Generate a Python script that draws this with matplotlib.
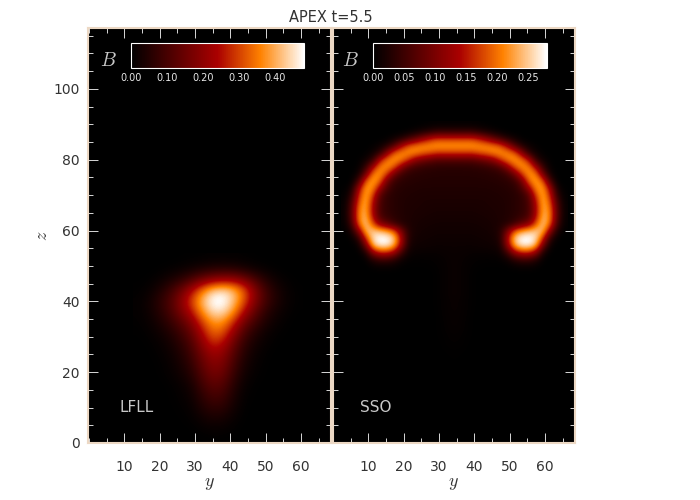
"""APEX t=5.5: magnetic field strength B in the y-z plane for two runs."""
import matplotlib
matplotlib.use("Agg")
import matplotlib.pyplot as plt
import numpy as np
from matplotlib.colors import LinearSegmentedColormap
from matplotlib.ticker import MultipleLocator

plt.rcParams["mathtext.fontset"] = "cm"

TITLE = "APEX t=5.5"
RUN_LEFT = "LFLL"
RUN_RIGHT = "SSO"
X_TICKS = [10, 20, 30, 40, 50, 60]
Z_TICKS = [0, 20, 40, 60, 80, 100]
CB_TICKS_LEFT = [0.0, 0.1, 0.2, 0.3, 0.4]
CB_TICKS_RIGHT = [0.0, 0.05, 0.10, 0.15, 0.20, 0.25]
VMAX_LEFT = 0.48
VMAX_RIGHT = 0.28

# B in units of 1e-3
LFLL_Y = [14, 17, 20, 23, 26, 29, 32, 35, 38, 41, 44, 47, 50, 53, 56, 59]
LFLL_Z = [52, 49, 46, 43, 40, 37, 34, 31, 28, 25, 22, 19, 16, 13, 10, 7, 4, 1]
LFLL_B = [
    [0, 0, 0, 0, 1, 2, 3, 5, 5, 5, 3, 1, 0, 0, 0, 0],
    [0, 0, 2, 6, 12, 24, 38, 50, 54, 50, 34, 18, 8, 2, 0, 0],
    [1, 3, 14, 34, 62, 105, 160, 200, 220, 215, 170, 105, 48, 18, 5, 1],
    [3, 12, 38, 85, 150, 240, 345, 430, 450, 410, 320, 185, 90, 38, 12, 2],
    [6, 22, 60, 110, 190, 300, 410, 490, 495, 420, 310, 185, 92, 42, 14, 3],
    [6, 20, 52, 100, 170, 255, 370, 450, 450, 370, 240, 135, 62, 26, 8, 1],
    [4, 13, 36, 72, 120, 185, 295, 375, 370, 275, 155, 88, 38, 14, 3, 0],
    [2, 7, 20, 45, 85, 140, 240, 330, 310, 200, 100, 48, 18, 5, 1, 0],
    [0, 3, 10, 28, 60, 110, 195, 275, 245, 145, 68, 28, 9, 2, 0, 0],
    [0, 1, 6, 18, 44, 88, 160, 215, 195, 115, 48, 16, 4, 0, 0, 0],
    [0, 0, 3, 12, 32, 68, 135, 185, 170, 92, 34, 10, 2, 0, 0, 0],
    [0, 0, 2, 8, 22, 50, 112, 158, 142, 72, 22, 6, 1, 0, 0, 0],
    [0, 0, 0, 3, 11, 30, 85, 125, 112, 50, 11, 2, 0, 0, 0, 0],
    [0, 0, 0, 2, 7, 20, 62, 95, 85, 36, 6, 1, 0, 0, 0, 0],
    [0, 0, 0, 1, 4, 12, 42, 65, 58, 24, 3, 0, 0, 0, 0, 0],
    [0, 0, 0, 0, 2, 6, 22, 35, 30, 12, 1, 0, 0, 0, 0, 0],
    [0, 0, 0, 0, 0, 2, 7, 12, 10, 4, 0, 0, 0, 0, 0, 0],
    [0, 0, 0, 0, 0, 0, 1, 2, 2, 1, 0, 0, 0, 0, 0, 0],
]

SSO_Y = [3.4, 5.4, 7.4, 9.4, 11.4, 13.4, 15.4, 17.4, 19.4, 21.4, 23.4, 25.4, 27.4, 29.4, 31.4, 33.4,
         35.4, 37.4, 39.4, 41.4, 43.4, 45.4, 47.4, 49.4, 51.4, 53.4, 55.4, 57.4, 59.4, 61.4, 63.4, 65.4]
SSO_Z = [90, 88, 86, 84, 82, 80, 78, 76, 74, 72, 70, 68, 66, 64, 62, 60, 58, 56, 54, 52, 50,
         48, 46, 44, 42, 40, 38, 36, 34, 32, 30, 28, 26, 24]
SSO_B = [
    [0, 0, 0, 0, 0, 0, 0, 0, 0, 0, 0, 1, 2, 3, 3, 3, 3, 3, 3, 2, 1, 0, 0, 0, 0, 0, 0, 0, 0, 0, 0, 0],
    [0, 0, 0, 0, 0, 0, 0, 0, 0, 3, 10, 18, 28, 40, 40, 40, 40, 40, 40, 28, 18, 10, 3, 0, 0, 0, 0, 0, 0, 0, 0, 0],
    [0, 0, 0, 0, 0, 0, 2, 12, 28, 55, 85, 120, 150, 170, 170, 170, 170, 170, 170, 150, 120, 85, 55, 28, 12, 2, 0, 0, 0, 0, 0, 0],
    [0, 0, 0, 0, 3, 10, 28, 70, 135, 185, 205, 215, 218, 222, 222, 222, 222, 222, 222, 218, 215, 205, 185, 135, 70, 28, 10, 3, 0, 0, 0, 0],
    [0, 0, 0, 2, 12, 35, 115, 190, 212, 218, 212, 195, 185, 170, 170, 170, 170, 170, 170, 185, 195, 212, 218, 212, 190, 115, 35, 12, 2, 0, 0, 0],
    [0, 0, 2, 12, 40, 150, 205, 222, 205, 165, 115, 95, 80, 68, 68, 68, 68, 68, 68, 80, 95, 115, 165, 205, 222, 205, 150, 40, 12, 2, 0, 0],
    [0, 0, 3, 40, 135, 210, 218, 185, 115, 65, 50, 42, 38, 36, 34, 34, 34, 34, 36, 38, 42, 50, 65, 115, 185, 218, 210, 135, 40, 3, 0, 0],
    [0, 1, 14, 95, 208, 222, 170, 90, 50, 38, 34, 32, 31, 30, 30, 30, 30, 30, 30, 31, 32, 34, 38, 50, 90, 170, 222, 208, 95, 14, 1, 0],
    [0, 1, 58, 190, 230, 195, 90, 46, 36, 32, 30, 29, 28, 28, 28, 28, 28, 28, 28, 28, 29, 30, 32, 36, 46, 90, 195, 230, 190, 58, 1, 0],
    [1, 16, 130, 225, 215, 125, 60, 36, 30, 28, 27, 26, 26, 26, 26, 26, 26, 26, 26, 26, 26, 27, 28, 30, 36, 60, 125, 215, 225, 130, 16, 1],
    [2, 35, 160, 235, 175, 70, 40, 32, 28, 26, 25, 24, 24, 24, 24, 24, 24, 24, 24, 24, 24, 25, 26, 28, 32, 40, 70, 175, 235, 160, 35, 2],
    [4, 58, 185, 238, 145, 60, 40, 32, 27, 25, 24, 23, 22, 22, 22, 22, 22, 22, 22, 22, 23, 24, 25, 27, 32, 40, 60, 145, 238, 185, 58, 4],
    [5, 68, 205, 235, 135, 56, 40, 32, 27, 24, 23, 22, 21, 20, 20, 20, 20, 20, 20, 21, 22, 23, 24, 27, 32, 40, 56, 135, 235, 205, 68, 5],
    [5, 68, 210, 242, 145, 62, 44, 34, 28, 24, 22, 20, 19, 18, 18, 18, 18, 18, 18, 19, 20, 22, 24, 28, 34, 44, 62, 145, 242, 210, 68, 5],
    [3, 52, 195, 252, 185, 110, 80, 50, 30, 24, 20, 18, 17, 16, 16, 16, 16, 16, 16, 17, 18, 20, 24, 30, 50, 80, 110, 185, 252, 195, 52, 3],
    [1, 20, 115, 240, 250, 240, 222, 185, 100, 30, 19, 16, 15, 14, 14, 14, 14, 14, 14, 15, 16, 19, 30, 100, 185, 222, 240, 250, 240, 115, 20, 1],
    [0, 3, 38, 170, 262, 285, 282, 250, 140, 30, 16, 14, 13, 12, 12, 12, 12, 12, 12, 13, 14, 16, 30, 140, 250, 282, 285, 262, 170, 38, 3, 0],
    [0, 1, 8, 95, 240, 272, 272, 235, 125, 22, 13, 12, 11, 10, 10, 10, 10, 10, 10, 11, 12, 13, 22, 125, 235, 272, 272, 240, 95, 8, 1, 0],
    [0, 0, 1, 22, 125, 170, 170, 135, 55, 12, 8, 7, 7, 7, 8, 9, 9, 8, 7, 7, 7, 8, 12, 55, 135, 170, 170, 125, 22, 1, 0, 0],
    [0, 0, 0, 3, 30, 50, 50, 35, 12, 4, 3, 3, 3, 4, 6, 8, 8, 6, 4, 3, 3, 3, 4, 12, 35, 50, 50, 30, 3, 0, 0, 0],
    [0, 0, 0, 0, 5, 8, 8, 6, 2, 1, 1, 1, 2, 3, 5, 8, 8, 5, 3, 2, 1, 1, 1, 2, 6, 8, 8, 5, 0, 0, 0, 0],
    [0, 0, 0, 0, 0, 0, 0, 0, 0, 0, 0, 0, 0, 2, 5, 8, 8, 5, 2, 0, 0, 0, 0, 0, 0, 0, 0, 0, 0, 0, 0, 0],
    [0, 0, 0, 0, 0, 0, 0, 0, 0, 0, 0, 0, 0, 2, 5, 8, 8, 5, 2, 0, 0, 0, 0, 0, 0, 0, 0, 0, 0, 0, 0, 0],
    [0, 0, 0, 0, 0, 0, 0, 0, 0, 0, 0, 0, 0, 2, 5, 8, 8, 5, 2, 0, 0, 0, 0, 0, 0, 0, 0, 0, 0, 0, 0, 0],
    [0, 0, 0, 0, 0, 0, 0, 0, 0, 0, 0, 0, 0, 2, 5, 8, 8, 5, 2, 0, 0, 0, 0, 0, 0, 0, 0, 0, 0, 0, 0, 0],
    [0, 0, 0, 0, 0, 0, 0, 0, 0, 0, 0, 0, 0, 2, 4, 7, 7, 4, 2, 0, 0, 0, 0, 0, 0, 0, 0, 0, 0, 0, 0, 0],
    [0, 0, 0, 0, 0, 0, 0, 0, 0, 0, 0, 0, 0, 2, 4, 7, 7, 4, 2, 0, 0, 0, 0, 0, 0, 0, 0, 0, 0, 0, 0, 0],
    [0, 0, 0, 0, 0, 0, 0, 0, 0, 0, 0, 0, 0, 1, 4, 6, 6, 4, 1, 0, 0, 0, 0, 0, 0, 0, 0, 0, 0, 0, 0, 0],
    [0, 0, 0, 0, 0, 0, 0, 0, 0, 0, 0, 0, 0, 1, 3, 6, 6, 3, 1, 0, 0, 0, 0, 0, 0, 0, 0, 0, 0, 0, 0, 0],
    [0, 0, 0, 0, 0, 0, 0, 0, 0, 0, 0, 0, 0, 1, 3, 5, 5, 3, 1, 0, 0, 0, 0, 0, 0, 0, 0, 0, 0, 0, 0, 0],
    [0, 0, 0, 0, 0, 0, 0, 0, 0, 0, 0, 0, 0, 1, 2, 4, 4, 2, 1, 0, 0, 0, 0, 0, 0, 0, 0, 0, 0, 0, 0, 0],
    [0, 0, 0, 0, 0, 0, 0, 0, 0, 0, 0, 0, 0, 0, 2, 3, 3, 2, 0, 0, 0, 0, 0, 0, 0, 0, 0, 0, 0, 0, 0, 0],
    [0, 0, 0, 0, 0, 0, 0, 0, 0, 0, 0, 0, 0, 0, 1, 2, 2, 1, 0, 0, 0, 0, 0, 0, 0, 0, 0, 0, 0, 0, 0, 0],
    [0, 0, 0, 0, 0, 0, 0, 0, 0, 0, 0, 0, 0, 0, 0, 1, 1, 0, 0, 0, 0, 0, 0, 0, 0, 0, 0, 0, 0, 0, 0, 0],
]

FRAME = "#ecd8c4"
TICK = "#d8d8d8"
TEXT = "#333333"
LABEL = "#c8c8c8"

cmap = LinearSegmentedColormap.from_list(
    "apex", [(0.0, "#000000"), (0.5, "#aa0000"), (0.75, "#ff8200"), (1.0, "#ffffff")], N=256
)


def px_axes(fig, left, top, right, bottom):
    w, h = fig.get_size_inches() * fig.dpi
    return fig.add_axes([left / w, 1 - bottom / h, (right - left) / w, (bottom - top) / h])


def draw_panel(ax, cax, b, ys, zs, vmax, cb_ticks, cb_fmt, run, run_x):
    dy = (ys[1] - ys[0]) / 2
    dz = (zs[0] - zs[1]) / 2
    ax.set_facecolor("black")
    im = ax.imshow(
        np.array(b) / 1000.0,
        extent=(ys[0] - dy, ys[-1] + dy, zs[-1] - dz, zs[0] + dz),
        origin="upper", aspect="auto", cmap=cmap, vmin=0, vmax=vmax,
        interpolation="bicubic",
    )
    ax.set_ylim(0, 117.2)
    ax.set_xticks(X_TICKS)
    ax.set_yticks(Z_TICKS)
    ax.xaxis.set_minor_locator(MultipleLocator(5))
    ax.yaxis.set_minor_locator(MultipleLocator(5))
    ax.tick_params(which="major", direction="in", top=True, right=True, length=7,
                   width=0.7, color=TICK, labelsize=10, labelcolor=TEXT)
    ax.tick_params(which="minor", direction="in", top=True, right=True, length=3.5,
                   width=0.7, color=TICK)
    ax.tick_params(axis="x", which="major", pad=12)
    ax.tick_params(axis="y", which="major", pad=6)
    for s in ax.spines.values():
        s.set_color(FRAME)
        s.set_linewidth(1.5)
    ax.set_xlabel("$y$", fontsize=13, color=TEXT, labelpad=0)
    ax.text(run_x, 8, run, color=LABEL, fontsize=11, ha="center", va="bottom")

    cb = ax.figure.colorbar(im, cax=cax, orientation="horizontal", ticks=cb_ticks)
    cb.outline.set_edgecolor("white")
    cb.outline.set_linewidth(0.8)
    cb.ax.tick_params(length=0, pad=4, labelsize=7, labelcolor="#e8e8e8")
    cb.ax.set_xticklabels([cb_fmt % t for t in cb_ticks])
    return im


fig = plt.figure(figsize=(7, 5), dpi=100, facecolor="white")

ax_l = px_axes(fig, 88, 28, 331, 443)
ax_r = px_axes(fig, 332.5, 28, 575, 443)
cax_l = px_axes(fig, 131, 42.5, 304, 67.5)
cax_r = px_axes(fig, 373, 42.5, 546.5, 67.5)

draw_panel(ax_l, cax_l, LFLL_B, LFLL_Y, LFLL_Z, VMAX_LEFT, CB_TICKS_LEFT, "%.2f", RUN_LEFT, 13.5)
draw_panel(ax_r, cax_r, SSO_B, SSO_Y, SSO_Z, VMAX_RIGHT, CB_TICKS_RIGHT, "%.2f", RUN_RIGHT, 12)
ax_l.set_xlim(-0.27, 68.5)
ax_r.set_xlim(-0.1, 68.5)

ax_l.set_ylabel("$z$", fontsize=13, color=TEXT, labelpad=2)
ax_r.tick_params(axis="y", which="both", labelleft=False)

ax_l.text(5.4, 108, "$B$", color=LABEL, fontsize=14, ha="center", va="center")
ax_r.text(5.0, 108, "$B$", color=LABEL, fontsize=14, ha="center", va="center")

fig.text(331 / 700, 1 - 18 / 500, TITLE, color=TEXT, fontsize=10.5, ha="center", va="center")

fig.savefig("out.png", dpi=100)
